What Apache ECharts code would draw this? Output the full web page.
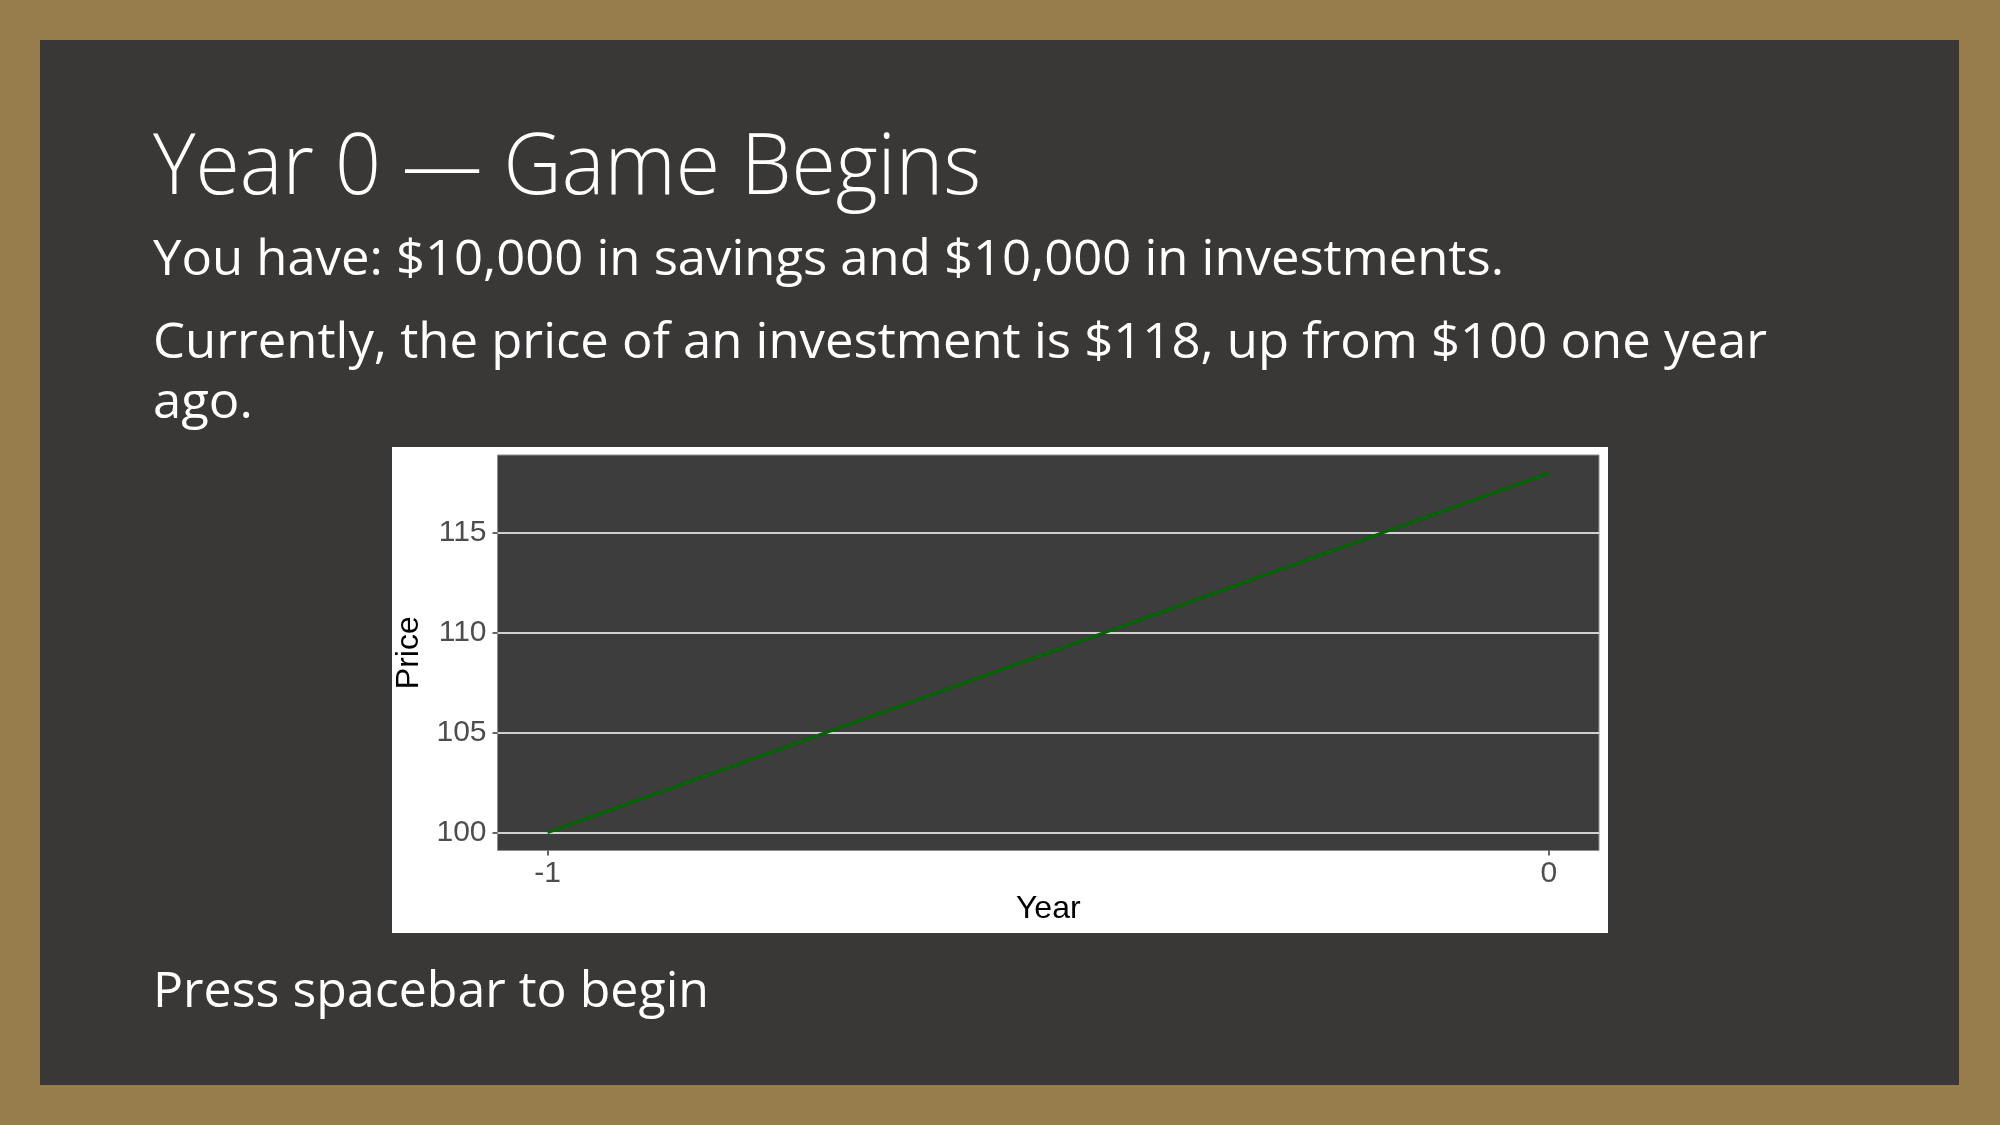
<!DOCTYPE html>
<html>
<head>
<meta charset="utf-8"/>
<title>Year 0 — Game Begins</title>
<script type="text/javascript" src="https://cdn.jsdelivr.net/npm/echarts@6.0.0/dist/echarts.min.js"></script>
<style type="text/css">
	html, body {
		margin: 0;
		padding: 0;
	}
	body {
		width: 2000px;
		height: 1125px;
		background-color: #977d4b;
		position: relative;
		overflow: hidden;
	}
	#slide {
		position: absolute;
		left: 40px;
		top: 40px;
		width: 1919px;
		height: 1045px;
		background-color: #3a3836;
	}
	.txt {
		position: absolute;
		left: 153px;
		white-space: nowrap;
		color: #ffffff;
		font-family: "Open Sans", sans-serif;
		transform-origin: 0 0;
	}
	.title {
		font-size: 84px;
		font-weight: 300;
		line-height: 100px;
	}
	.body {
		font-size: 49px;
		line-height: 60px;
	}
	.press {
		font-size: 50px;
		line-height: 60px;
	}
	#chart-box {
		position: absolute;
		left: 392px;
		top: 447px;
		width: 1216px;
		height: 486px;
		background-color: #ffffff;
	}
</style>
</head>
<body>
	<div id="slide"></div>
	<div class="txt title" data-w="828" style="top:112px;"><span class="ln">Year 0 — Game Begins</span></div>
	<div class="txt body" data-w="1351" style="top:226px;"><span class="ln">You have: $10,000 in savings and $10,000 in investments.</span></div>
	<div class="txt body" data-w="1614" style="top:309px;"><span class="ln">Currently, the price of an investment is $118, up from $100 one year</span><br/><span>ago.</span></div>
	<div class="txt press" data-w="556" style="top:958px;"><span class="ln">Press spacebar to begin</span></div>
	<div id="chart-box"></div>

<script type="text/javascript">
	// 数据
	var year_data = [-1, 0];
	var price_data = [100, 118];
	var x_ticks = [-1, 0];
	var y_ticks = [100, 105, 110, 115];

	// 文字宽度按参考图拉伸
	function fitText(){
		var items = document.querySelectorAll('[data-w]');
		for(var i=0;i<items.length;i++){
			var el = items[i];
			el.style.transform = 'none';
			var w = el.querySelector('.ln').getBoundingClientRect().width;
			var target = parseFloat(el.getAttribute('data-w'));
			if(w > 0){
				el.style.transform = 'scaleX(' + (target / w) + ')';
			}
		}
	}
	fitText();
	window.addEventListener('load', fitText);

	// ggplot 式 5% 扩展
	function expand(arr){
		var lo = Math.min.apply(null, arr);
		var hi = Math.max.apply(null, arr);
		var pad = (hi - lo) * 0.05;
		return [lo - pad, hi + pad];
	}
	var x_ext = expand(year_data);
	var y_ext = expand(price_data);

	var line_data = [];
	for(var i=0;i<year_data.length;i++){
		line_data.push([year_data[i], price_data[i]]);
	}

	var label_font = 'Liberation Sans';

	var price_chart = echarts.init(document.getElementById('chart-box'), null, {renderer: 'canvas'});
	var option = {
		backgroundColor: '#ffffff',
		animation: false,
		grid: {
			left: 105.5,
			right: 9,
			top: 8,
			bottom: 82.5,
			containLabel: false,
			outerBoundsMode: 'none',
			show: true,
			backgroundColor: '#3d3d3d',
			borderColor: '#8f8f8f',
			borderWidth: 1
		},
		xAxis: {
			type: 'value',
			min: x_ext[0],
			max: x_ext[1],
			name: 'Year',
			nameLocation: 'middle',
			nameGap: 39,
			nameTextStyle: {
				color: '#000000',
				fontSize: 32,
				fontFamily: label_font
			},
			axisLine: { show: false, onZero: false },
			axisTick: {
				show: true,
				length: 5,
				customValues: x_ticks,
				lineStyle: { color: '#333333', width: 1.5 }
			},
			axisLabel: {
				customValues: x_ticks,
				margin: 8,
				fontSize: 30,
				color: '#4d4d4d',
				fontFamily: label_font
			},
			splitLine: { show: false }
		},
		yAxis: {
			type: 'value',
			min: y_ext[0],
			max: y_ext[1],
			name: 'Price',
			nameLocation: 'middle',
			nameGap: 65,
			nameTextStyle: {
				color: '#000000',
				fontSize: 32,
				fontFamily: label_font
			},
			axisLine: { show: false, onZero: false },
			axisTick: {
				show: true,
				length: 5,
				customValues: y_ticks,
				lineStyle: { color: '#333333', width: 1.5 }
			},
			axisLabel: {
				customValues: y_ticks,
				margin: 11,
				padding: [5, 0, 0, 0],
				fontSize: 30,
				color: '#4d4d4d',
				fontFamily: label_font
			},
			splitLine: {
				show: true,
				lineStyle: { color: '#d0d0d0', width: 2 }
			}
		},
		series: [{
			name: 'Price',
			type: 'line',
			data: line_data,
			showSymbol: false,
			symbol: 'none',
			lineStyle: { color: '#006400', width: 3 },
			itemStyle: { color: '#006400' }
		}]
	};
	price_chart.setOption(option);
</script>
</body>
</html>
